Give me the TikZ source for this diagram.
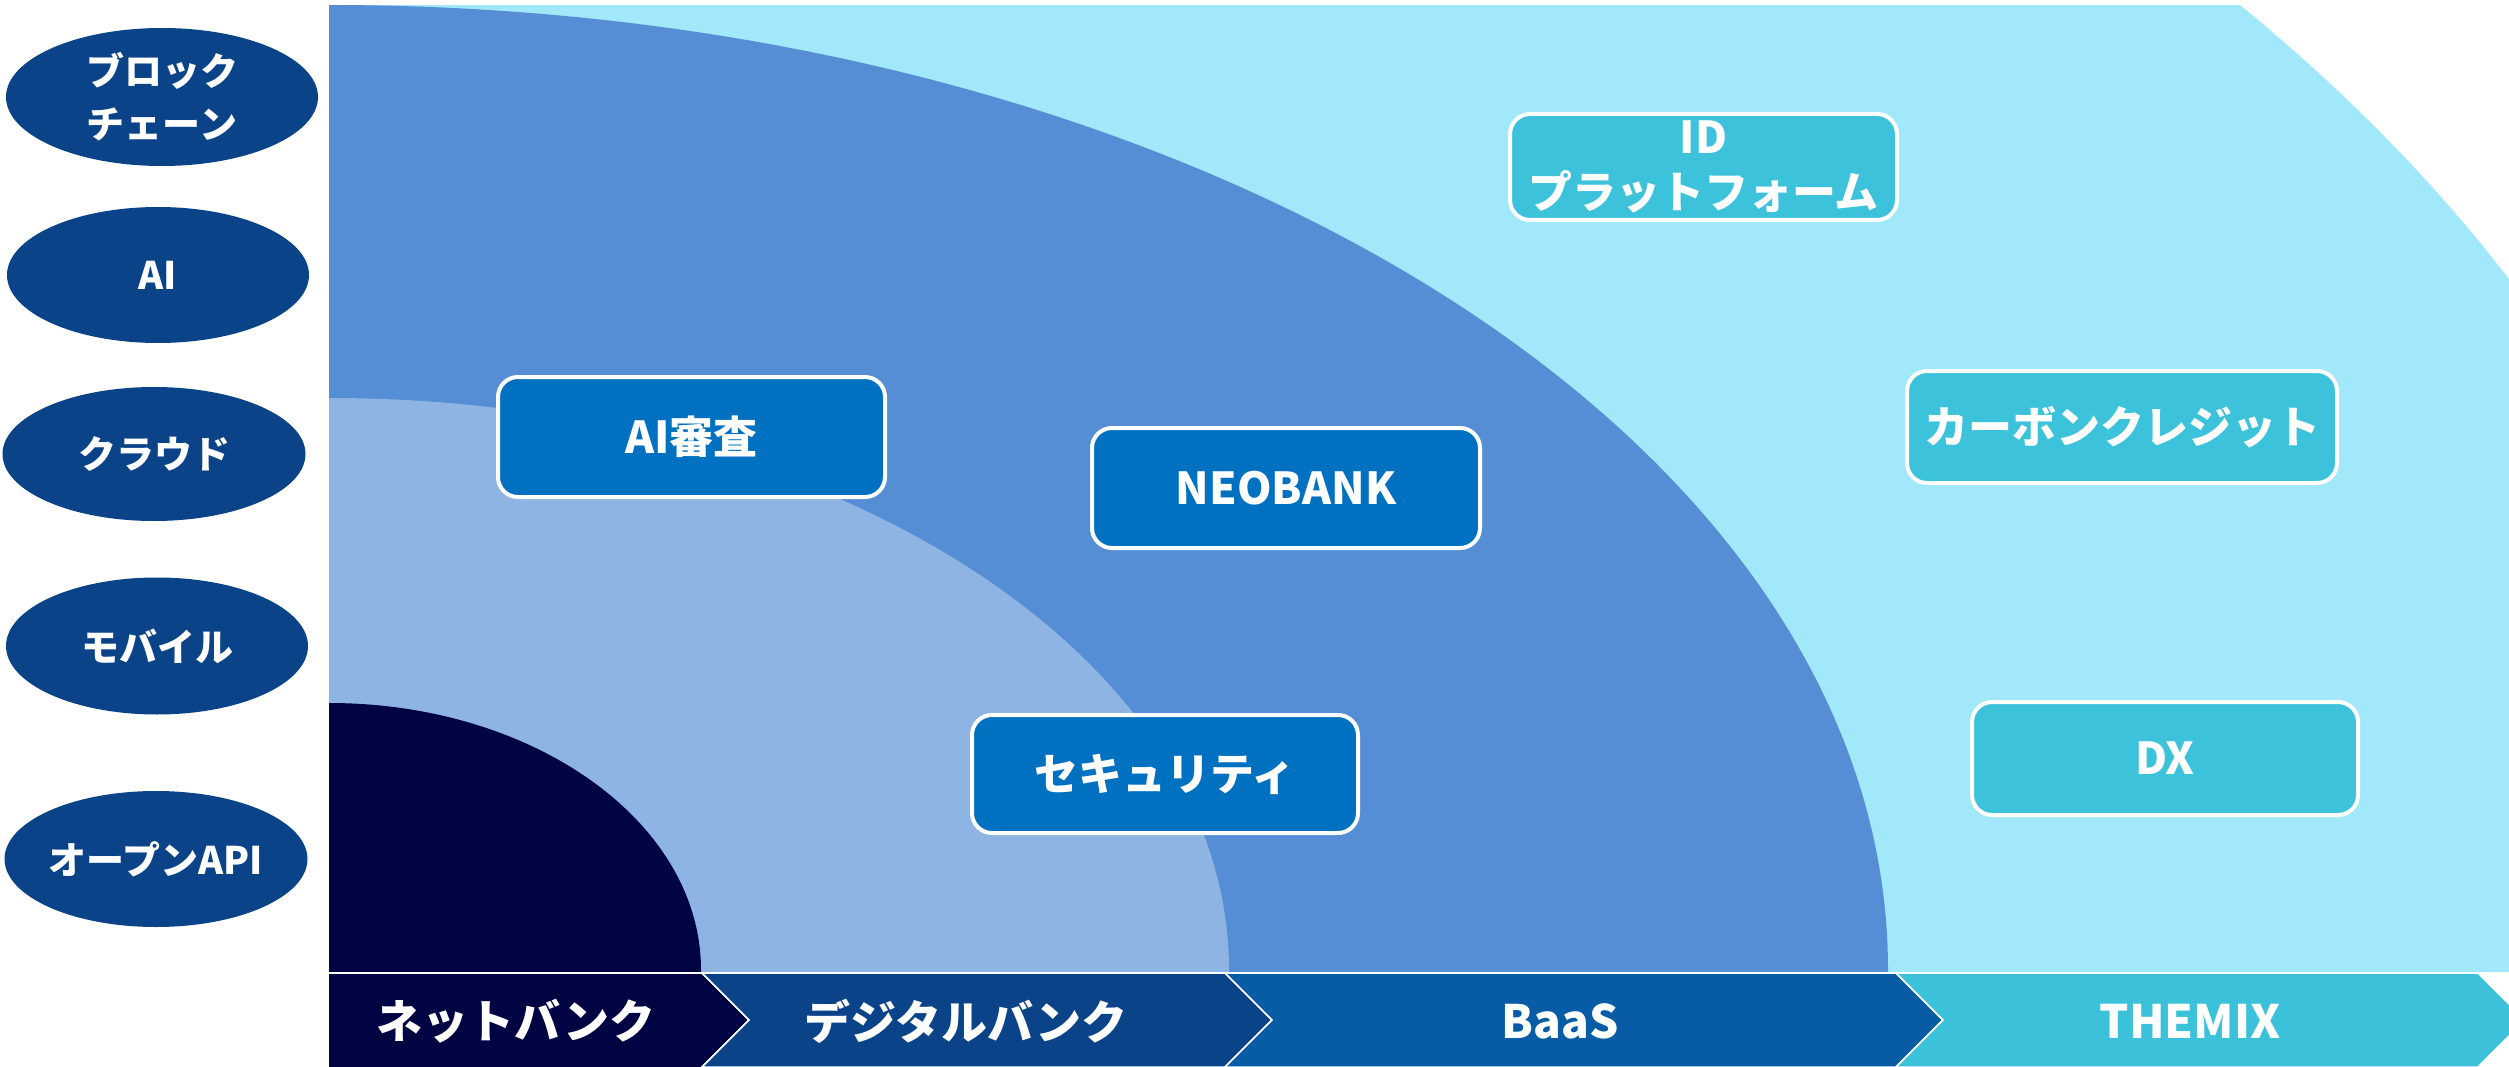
\documentclass[tikz,border=0pt]{standalone}
\usepackage{fontspec}
\setmainfont{Noto Sans CJK JP}
\usetikzlibrary{shapes.geometric}
\definecolor{cyanbg}{HTML}{A1E8FB}
\definecolor{midblue}{HTML}{558ED5}
\definecolor{lightblue}{HTML}{8EB4E3}
\definecolor{navy}{HTML}{000443}
\definecolor{boxblue}{HTML}{0070C0}
\definecolor{boxcyan}{HTML}{3CC2DB}
\definecolor{ellblue}{HTML}{0B4389}
\definecolor{chevtwo}{HTML}{0B4389}
\definecolor{chevthree}{HTML}{075CA5}
\definecolor{chevfour}{HTML}{3CC1DA}
\tikzset{
  techell/.style={ellipse, fill=ellblue, inner sep=0pt, text=white, align=center,
    font=\bfseries\fontsize{38}{53}\selectfont},
  bluebox/.style={rectangle, rounded corners=20pt, draw=white, line width=4pt, fill=boxblue,
    text=white, align=center, inner sep=0pt, font=\bfseries\fontsize{44}{55}\selectfont},
  cyanbox/.style={bluebox, fill=boxcyan},
  chev/.style={draw=white, line width=1.5pt},
  chevtext/.style={text=white, font=\bfseries\fontsize{46}{50}\selectfont, inner sep=0pt}
}
\begin{document}
\begin{tikzpicture}[x=1pt,y=-1pt]
\useasboundingbox (0,0) rectangle (2509,1067);
% quadrant areas
\begin{scope}
  \clip (329,6) rectangle (2509,971);
  \fill[cyanbg] (329,970) ellipse [x radius=2430pt, y radius=1562pt];
  \fill[midblue] (329,970) ellipse [x radius=1559pt, y radius=965pt];
  \fill[lightblue] (329,970) ellipse [x radius=900pt, y radius=572pt];
  \fill[navy] (329,970) ellipse [x radius=372pt, y radius=267pt];
\end{scope}
% chevrons
\fill[navy] (329,973) -- (702,973) -- (749,1020) -- (702,1067) -- (329,1067) -- cycle;
\draw[chev] (329,973) -- (702,973) -- (749,1020) -- (702,1067);
\filldraw[chev, fill=chevtwo] (702,973) -- (1225,973) -- (1272,1020) -- (1225,1067) -- (702,1067) -- (749,1020) -- cycle;
\filldraw[chev, fill=chevthree] (1225,973) -- (1896,973) -- (1943,1020) -- (1896,1067) -- (1225,1067) -- (1272,1020) -- cycle;
\filldraw[chev, fill=chevfour] (1896,973) -- (2478,973) -- (2525,1020) -- (2478,1067) -- (1896,1067) -- (1943,1020) -- cycle;
\node[chevtext] (c1) at (516,1021) {ネットバンク};
\node[chevtext] (c2) at (966,1021) {デジタルバンク};
\node[chevtext] (c3) at (1560,1021) {BaaS};
\node[chevtext] (c4) at (2190,1021) {THEMIX};
% technology ellipses
\node[techell, minimum width=312pt, minimum height=138pt] (e1) at (162,97) {ブロック\\チェーン};
\node[techell, minimum width=302pt, minimum height=136pt] (e2) at (158,275) {AI};
\node[techell, minimum width=303pt, minimum height=134pt] (e3) at (154,454) {クラウド};
\node[techell, minimum width=302pt, minimum height=137pt] (e4) at (157,646) {モバイル};
\node[techell, minimum width=292pt, minimum height=136pt] (e5) at (156,859) {オープンAPI};
% boxes
\node[bluebox, minimum width=387pt, minimum height=120pt] (b1) at (691.5,437) {AI審査};
\node[bluebox, minimum width=388pt, minimum height=120pt] (b2) at (1286,488) {NEOBANK};
\node[bluebox, minimum width=386pt, minimum height=118pt] (b3) at (1165,774) {セキュリティ};
\node[cyanbox, minimum width=387pt, minimum height=106pt] (b4) at (1703.5,167) {ID\\プラットフォーム};
\node[cyanbox, minimum width=430pt, minimum height=112pt] (b5) at (2122,427) {カーボンクレジット};
\node[cyanbox, minimum width=386pt, minimum height=113pt] (b6) at (2165,758.5) {DX};
\end{tikzpicture}
\end{document}
